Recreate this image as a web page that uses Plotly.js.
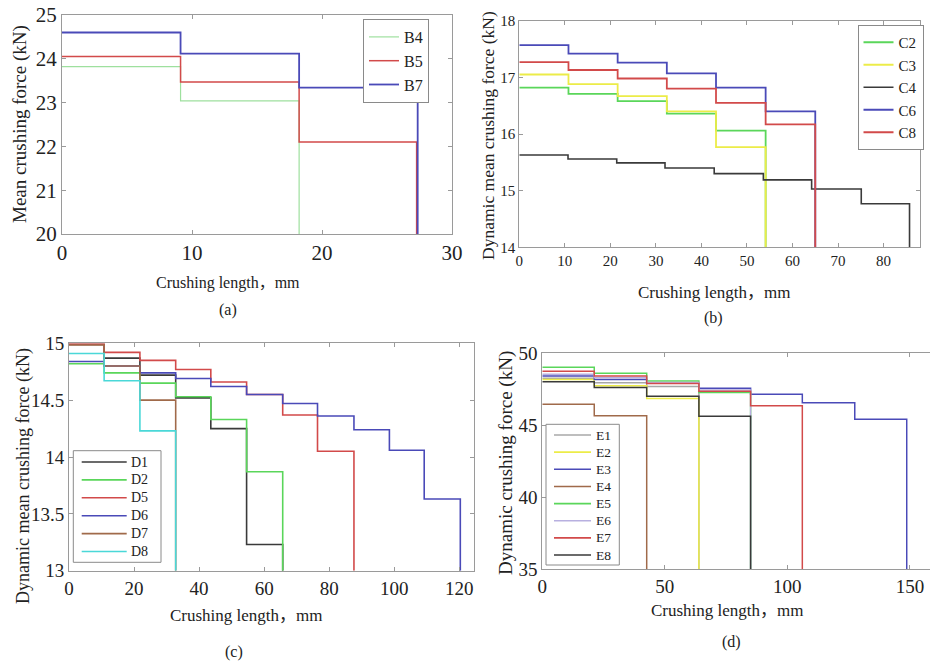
<!DOCTYPE html>
<html>
<head>
<meta charset="utf-8">
<script src="https://cdn.plot.ly/plotly-3.0.1.min.js"></script>
<style>html,body{margin:0;padding:0;background:#fff;}#chart{width:930px;height:666px;}</style>
</head>
<body>
<div id="chart"></div>
<script>
// ---------- DATA ----------
// Panel (a)
const aNames = ['B4', 'B5', 'B7'];
const b4X = [0, 9.12, 18.24];
const b4Y = [23.82, 23.04, 20];
const b5X = [0, 9.12, 18.24, 27.28];
const b5Y = [24.05, 23.47, 22.1, 20];
const b7X = [0, 9.12, 18.24, 27.36];
const b7Y = [24.6, 24.12, 23.34, 20];

// Panel (b)
const bNames = ['C2', 'C3', 'C4', 'C6', 'C8'];
const cStepX = [0, 10.8, 21.6, 32.4, 43.2, 54.1];
const cLongX = [0, 10.8, 21.6, 32.4, 43.2, 54.1, 65.0];
const c4X = [0, 10.7, 21.4, 32.0, 42.8, 53.6, 64.2, 75.1, 85.7];
const c2Y = [16.82, 16.71, 16.58, 16.36, 16.06, 14];
const c3Y = [17.05, 16.88, 16.67, 16.40, 15.77, 14];
const c4Y = [15.63, 15.56, 15.49, 15.40, 15.30, 15.19, 15.03, 14.77, 14];
const c6Y = [17.57, 17.42, 17.26, 17.07, 16.82, 16.40, 14];
const c8Y = [17.27, 17.13, 16.98, 16.80, 16.55, 16.17, 14];

// Panel (c)
const cNames = ['D1', 'D2', 'D5', 'D6', 'D7', 'D8'];
const dEdges = [0, 10.8, 21.8, 32.8, 43.6, 54.6, 65.7, 76.4, 87.6, 98.5, 109.2, 120.3];
const d1Y = [14.99, 14.87, 14.72, 14.52, 14.25, 13.23, 13];
const d2Y = [14.82, 14.74, 14.65, 14.53, 14.33, 13.87, 13];
const d5Y = [14.993, 14.92, 14.85, 14.77, 14.66, 14.55, 14.37, 14.05, 13];
const d6Y = [14.84, 14.80, 14.74, 14.69, 14.62, 14.55, 14.47, 14.36, 14.24, 14.06, 13.63, 13];
const d7Y = [14.985, 14.80, 14.50, 13];
const d8Y = [14.91, 14.67, 14.23, 13];

// Panel (d)
const dNames = ['E1', 'E2', 'E3', 'E4', 'E5', 'E6', 'E7', 'E8'];
const eEdges = [0, 21.2, 42.6, 63.9, 85.0, 106.1, 127.5, 148.7];
const e1Y = [48.26, 47.96, 47.70, 35];
const e2Y = [48.18, 47.75, 46.86, 35];
const e3Y = [48.42, 48.18, 47.93, 47.57, 47.15, 46.57, 45.42, 35];
const e4Y = [46.46, 45.67, 35];
const e5Y = [49.03, 48.61, 48.08, 47.27, 35];
const e6Y = [48.55, 48.30, 47.98, 47.45, 35];
const e7Y = [48.75, 48.42, 47.90, 47.36, 46.36, 35];
const e8Y = [48.03, 47.62, 47.02, 45.62, 35];

// ---------- STYLE ----------
const COL = {
  green: '#5ad65a', lgreen: '#9ee09e', red: '#d24a4a', blue: '#4a4ab8',
  yellow: '#ecec48', black: '#3a3a3a', brown: '#a06a4a', cyan: '#4ad8d8',
  gray: '#a8a8a8', lpurple: '#b8b0e0'
};
const SERIF = 'Liberation Serif, Times New Roman, serif';

function stepTrace(name, x, y, color, width, xa, ya, legend, show) {
  return {
    type: 'scatter', mode: 'lines', name: name,
    x: x, y: y,
    line: {shape: 'hv', color: color, width: width},
    xaxis: xa, yaxis: ya, legend: legend, showlegend: show, hoverinfo: 'skip'
  };
}

const traces = [
  stepTrace(aNames[0], b4X, b4Y, COL.lgreen, 1.2, 'x', 'y', 'legend', true),
  stepTrace(aNames[1], b5X, b5Y, COL.red, 1.5, 'x', 'y', 'legend', true),
  stepTrace(aNames[2], b7X, b7Y, COL.blue, 1.8, 'x', 'y', 'legend', true),

  stepTrace(bNames[0], cStepX, c2Y, COL.green, 1.8, 'x2', 'y2', 'legend2', true),
  stepTrace(bNames[1], cStepX, c3Y, COL.yellow, 1.8, 'x2', 'y2', 'legend2', true),
  stepTrace(bNames[2], c4X, c4Y, COL.black, 1.6, 'x2', 'y2', 'legend2', true),
  stepTrace(bNames[3], cLongX, c6Y, COL.blue, 1.8, 'x2', 'y2', 'legend2', true),
  stepTrace(bNames[4], cLongX, c8Y, COL.red, 1.8, 'x2', 'y2', 'legend2', true)
];

const cSeries = [d1Y, d2Y, d5Y, d6Y, d7Y, d8Y];
const cColors = [COL.black, COL.green, COL.red, COL.blue, COL.brown, COL.cyan];
cSeries.forEach((ys, i) => traces.push(
  stepTrace(cNames[i], dEdges.slice(0, ys.length), ys, cColors[i], 1.6, 'x3', 'y3', 'legend3', false)));

const dSeries = [e1Y, e2Y, e3Y, e4Y, e5Y, e6Y, e7Y, e8Y];
const dColors = [COL.gray, COL.yellow, COL.blue, COL.brown, COL.green, COL.lpurple, COL.red, COL.black];
dSeries.forEach((ys, i) => traces.push(
  stepTrace(dNames[i], eEdges.slice(0, ys.length), ys, dColors[i], 1.5, 'x4', 'y4', 'legend4', false)));

// ---------- LAYOUT ----------
const W = 930, H = 666;
const px = v => v / W;
const py = v => 1 - v / H;

function axis(domain, range, dtick, fsize, anchor, mirror) {
  return {
    domain: domain, range: range, dtick: dtick, tick0: range[0],
    anchor: anchor, showline: true, linecolor: '#9a9a9a', linewidth: 1,
    mirror: mirror, ticks: 'inside', ticklen: 4, tickcolor: '#9a9a9a',
    showgrid: false, zeroline: false, fixedrange: true,
    tickfont: {family: SERIF, size: fsize, color: '#222'}
  };
}

function legendBox(x, y, fsize) {
  return {
    x: x, y: y, xanchor: 'left', yanchor: 'top',
    bgcolor: '#fff', bordercolor: '#8a8a8a', borderwidth: 1,
    font: {family: SERIF, size: fsize, color: '#222'},
    itemwidth: 30, tracegroupgap: 0, traceorder: 'normal'
  };
}

function txt(text, x, y, size, angle, anchor) {
  return {
    text: text, xref: 'paper', yref: 'paper', x: px(x), y: py(y),
    xanchor: anchor || 'center', yanchor: 'middle', showarrow: false,
    textangle: angle || 0,
    font: {family: SERIF + ', Noto Sans CJK SC', size: size, color: '#222'}
  };
}

const shapes = [];
const annotations = [
  txt('Mean crushing force (kN)', 20, 124, 19, -90),
  txt('Crushing length，mm', 228, 283, 16),
  txt('(a)', 228, 310, 16),
  txt('Dynamic mean crushing force (kN)', 488, 136, 17.5, -90),
  txt('Crushing length，mm', 714, 292, 17),
  txt('(b)', 713, 318, 16),
  txt('Dynamic mean crushing force (kN)', 23, 476, 18, -90),
  txt('Crushing length，mm', 246, 615, 17),
  txt('(c)', 234, 652, 16),
  txt('Dynamic crushing force (kN)', 506, 463, 19, -90),
  txt('Crushing length，mm', 727, 610, 17),
  txt('(d)', 731, 642, 16)
];

// Hand-built legend boxes for panels (c) and (d) (compact row spacing)
function manualLegend(names, colors, box, rowY0, rowStep, lineX0, lineX1, textX, fsize) {
  shapes.push({type: 'rect', xref: 'paper', yref: 'paper',
    x0: px(box[0]), x1: px(box[1]), y0: py(box[3]), y1: py(box[2]),
    fillcolor: '#fff', line: {color: '#8a8a8a', width: 1}, layer: 'above'});
  names.forEach((n, i) => {
    const yy = rowY0 + i * rowStep;
    shapes.push({type: 'line', xref: 'paper', yref: 'paper',
      x0: px(lineX0), x1: px(lineX1), y0: py(yy), y1: py(yy),
      line: {color: colors[i], width: 1.6}, layer: 'above'});
    annotations.push(txt(n, textX, yy, fsize, 0, 'left'));
  });
}
manualLegend(cNames, cColors, [73.3, 161, 450.7, 562.3], 462, 17.9, 81.7, 126.7, 128.5, 14);
manualLegend(dNames, dColors, [546, 619.3, 424.3, 565], 435, 17.15, 554, 591, 593.5, 13.5);

const layout = {
  width: W, height: H,
  margin: {l: 0, r: 0, t: 0, b: 0},
  paper_bgcolor: '#fff', plot_bgcolor: '#fff',
  showlegend: true,
  xaxis: axis([px(62), px(452)], [0, 30], 10, 21, 'y', 'ticks'),
  yaxis: axis([py(234), py(15)], [20, 25], 1, 21, 'x', 'ticks'),
  xaxis2: axis([px(519.3), px(920)], [0, 88], 10, 15, 'y2', 'ticks'),
  yaxis2: axis([py(247.3), py(20.7)], [14, 18], 1, 15, 'x2', 'ticks'),
  xaxis3: axis([px(69), px(474.3)], [0, 124.6], 20, 19, 'y3', 'ticks'),
  yaxis3: axis([py(570.7), py(343.3)], [13, 15], 0.5, 19, 'x3', 'ticks'),
  xaxis4: axis([px(542.3), 1], [0, 158.2], 50, 19, 'y4', 'ticks'),
  yaxis4: axis([py(569.3), py(353.3)], [35, 50], 5, 19, 'x4', false),
  legend: legendBox(px(363), py(19), 16),
  legend2: legendBox(px(857.5), py(25), 15),
  shapes: shapes,
  annotations: annotations
};

Plotly.newPlot('chart', traces, layout, {staticPlot: true, displayModeBar: false});
</script>
</body>
</html>
